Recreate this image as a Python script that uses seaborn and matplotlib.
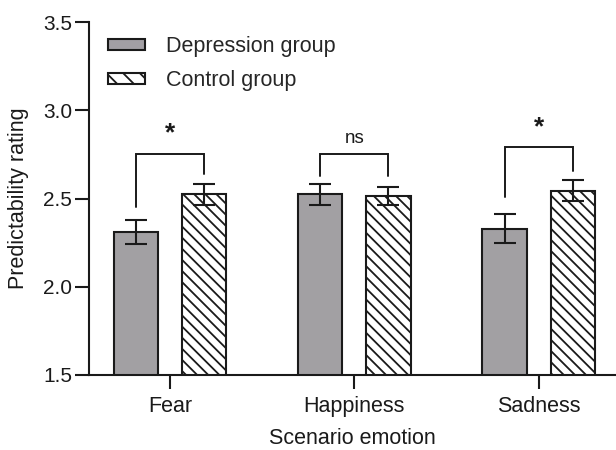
import matplotlib
matplotlib.use("Agg")
import matplotlib.pyplot as plt
import seaborn as sns
import pandas as pd
import numpy as np

emotions = ["Fear", "Happiness", "Sadness"]
groups = ["Depression group", "Control group"]
dep_means = [2.31, 2.525, 2.33]
dep_err = [0.07, 0.06, 0.08]
ctl_means = [2.525, 2.515, 2.545]
ctl_err = [0.06, 0.05, 0.06]
sig_labels = ["*", "ns", "*"]
bracket_left = [2.45, 2.63, 2.51]
bracket_top = [2.755, 2.75, 2.79]
bracket_right = [2.64, 2.63, 2.655]
yticks = [1.5, 2.0, 2.5, 3.0, 3.5]

sns.set_style("ticks")
plt.rcParams["font.family"] = ["Liberation Sans", "DejaVu Sans"]
plt.rcParams["hatch.linewidth"] = 1.3
plt.rcParams["hatch.color"] = "#1a1a1a"

df = pd.DataFrame({
    "emotion": emotions * 2,
    "group": [groups[0]] * 3 + [groups[1]] * 3,
    "value": dep_means + ctl_means,
})

fig = plt.figure(figsize=(6.16, 4.5), dpi=100)
ax = fig.add_axes([0.1445, 0.1667, 0.8555, 0.7843])

gray = "#a29fa4"
hatch = "\\\\\\"
sns.barplot(data=df, x="emotion", y="value", hue="group", order=emotions,
            hue_order=groups, palette=[gray, "white"], errorbar=None,
            width=0.74, gap=0.35, edgecolor="#1a1a1a", linewidth=1.5, ax=ax,
            legend=True)

n = len(emotions)
patches = ax.patches[:2 * n]
for p in patches[n:2 * n]:
    p.set_hatch(hatch)

xs_dep = [p.get_x() + p.get_width() / 2 for p in patches[:n]]
xs_ctl = [p.get_x() + p.get_width() / 2 for p in patches[n:2 * n]]

ax.errorbar(xs_dep, dep_means, yerr=dep_err, fmt="none", ecolor="#1a1a1a",
            elinewidth=1.5, capsize=8, capthick=1.5, zorder=5)
ax.errorbar(xs_ctl, ctl_means, yerr=ctl_err, fmt="none", ecolor="#1a1a1a",
            elinewidth=1.5, capsize=8, capthick=1.5, zorder=5)

for i in range(n):
    ax.plot([xs_dep[i], xs_dep[i], xs_ctl[i], xs_ctl[i]],
            [bracket_left[i], bracket_top[i], bracket_top[i], bracket_right[i]],
            color="#1a1a1a", lw=1.4, solid_joinstyle="miter")
    if sig_labels[i] == "*":
        ax.text((xs_dep[i] + xs_ctl[i]) / 2, bracket_top[i] + 0.045, "*",
                ha="center", va="bottom", fontsize=19, fontweight="bold",
                color="#1a1a1a")
    else:
        ax.text((xs_dep[i] + xs_ctl[i]) / 2, bracket_top[i] + 0.04, "ns",
                ha="center", va="bottom", fontsize=13.5, color="#1a1a1a")

ax.set_xlim(-0.44, 2.42)
ax.set_ylim(1.5, 3.5)
ax.set_yticks(yticks)
ax.set_yticklabels([f"{t:.1f}" for t in yticks])
ax.set_xlabel("Scenario emotion", fontsize=15.5, labelpad=8, color="#1a1a1a")
ax.set_ylabel("Predictability rating", fontsize=15.5, labelpad=10, color="#1a1a1a")
ax.tick_params(axis="both", length=10, width=1.5, color="#1a1a1a",
               labelsize=15.5, labelcolor="#1a1a1a")
ax.tick_params(axis="x", pad=5)
ax.tick_params(axis="y", pad=2, labelsize=15)
for s in ["left", "bottom"]:
    ax.spines[s].set_linewidth(1.5)
    ax.spines[s].set_color("#1a1a1a")
ax.spines["top"].set_visible(False)
ax.spines["right"].set_visible(False)

leg = ax.legend(loc="upper left", bbox_to_anchor=(0.02, 0.985), frameon=False,
                fontsize=15.5, handlelength=1.7, handleheight=0.4,
                handletextpad=1.0, labelspacing=0.6, borderaxespad=0)
handles = leg.legend_handles
handles[0].set_facecolor(gray)
handles[0].set_edgecolor("#1a1a1a")
handles[0].set_linewidth(1.5)
handles[1].set_facecolor("white")
handles[1].set_edgecolor("#1a1a1a")
handles[1].set_linewidth(1.5)
handles[1].set_hatch("\\\\")

fig.savefig("out.png", dpi=100)
